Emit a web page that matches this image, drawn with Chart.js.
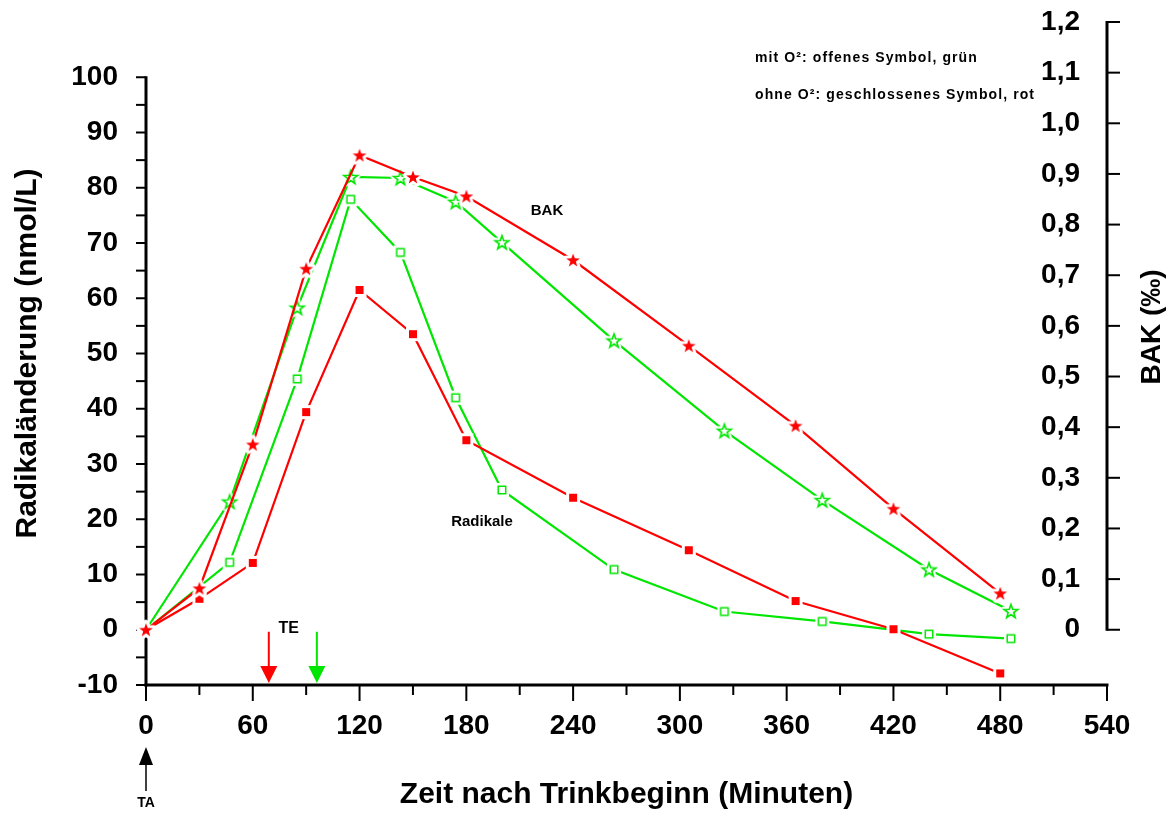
<!DOCTYPE html>
<html>
<head>
<meta charset="utf-8">
<script src="https://cdn.jsdelivr.net/npm/chart.js@4/dist/chart.umd.min.js"></script>
<style>
    html, body { margin: 0; padding: 0; background: #fff; }
    #wrap { width: 1175px; height: 816px; }
</style>
</head>
<body>
<div id="wrap"><canvas id="bakChart" width="1175" height="816"></canvas></div>
<script>
// Zeiten nach Trinkbeginn (Minuten)
const timesOhneO2 = [0, 30, 60, 90, 120, 150, 180, 240, 305, 365, 420, 480];
const timesMitO2 = [0, 47, 85, 115, 143, 174, 200, 263, 325, 380, 440, 486];

// BAK (Promille), rechte Achse
const bakOhneO2 = [0, 0.082, 0.366, 0.713, 0.937, 0.894, 0.856, 0.730, 0.561, 0.403, 0.239, 0.072];
const bakMitO2 = [0, 0.253, 0.636, 0.894, 0.892, 0.845, 0.765, 0.571, 0.393, 0.256, 0.119, 0.037];

// Radikalaenderung (nmol/L), linke Achse
const radOhneO2 = [0, 5.6, 12.1, 39.4, 61.5, 53.5, 34.3, 23.9, 14.4, 5.2, 0.1, -7.9];
const radMitO2 = [0, 12.2, 45.4, 77.9, 68.3, 42.0, 25.3, 10.9, 3.3, 1.5, -0.8, -1.6];

// Trinkende (TE) fuer ohne / mit O2
const teTimes = [69, 96];

// Achsen-Ticks
const xTicks = [0, 60, 120, 180, 240, 300, 360, 420, 480, 540];
const xMinorTicks = [30, 90, 150, 210, 270, 330, 390, 450, 510];
const leftTicks = [-10, 0, 10, 20, 30, 40, 50, 60, 70, 80, 90, 100];
const leftMinorTicks = [-5, 5, 15, 25, 35, 45, 55, 65, 75, 85, 95];
const rightTicks = [0, 0.1, 0.2, 0.3, 0.4, 0.5, 0.6, 0.7, 0.8, 0.9, 1.0, 1.1, 1.2];

const FONT = "'Liberation Sans', Arial, Helvetica, sans-serif";
const RED = '#ff0000';
const GREEN = '#00e600';

function pts(xs, ys) {
    return xs.map((x, i) => ({ x: x, y: ys[i] }));
}

// marker images with white halo so the line stops short of the symbol
function makeStar(color, filled) {
    const size = 24;
    const c = document.createElement('canvas');
    c.width = c.height = size;
    const g = c.getContext('2d');
    const path = () => {
        g.beginPath();
        for (let i = 0; i < 10; i++) {
            const r = i % 2 ? 2.9 : 7.2;
            const a = -Math.PI / 2 + i * Math.PI / 5;
            g.lineTo(size / 2 + r * Math.cos(a), size / 2 + 0.6 + r * Math.sin(a));
        }
        g.closePath();
    };
    path();
    g.lineJoin = 'round';
    g.lineWidth = 6;
    g.strokeStyle = '#fff';
    g.stroke();
    g.fillStyle = '#fff';
    g.fill();
    path();
    if (filled) {
        g.fillStyle = color;
        g.fill();
    } else {
        g.lineJoin = 'miter';
        g.lineWidth = 1.6;
        g.strokeStyle = color;
        g.stroke();
    }
    return c;
}

function makeSquare(color, filled) {
    const size = 18;
    const c = document.createElement('canvas');
    c.width = c.height = size;
    const g = c.getContext('2d');
    g.fillStyle = '#fff';
    g.fillRect(2, 2, size - 4, size - 4);
    if (filled) {
        g.fillStyle = color;
        g.fillRect(5, 5, 8, 8);
    } else {
        g.strokeStyle = color;
        g.lineWidth = 1.5;
        g.strokeRect(5.25, 5.25, 7.5, 7.5);
    }
    return c;
}

const axesPlugin = {
    id: 'axesPlugin',
    beforeDatasetsDraw(chart) {
        const { ctx } = chart;
        const x = chart.scales.x, y = chart.scales.y, y2 = chart.scales.y2;
        const xl = x.getPixelForValue(0);
        const xr = x.getPixelForValue(540);
        const yb = y.getPixelForValue(-10);
        const line = (x1, y1, x2, y2_) => {
            ctx.beginPath();
            ctx.moveTo(x1, y1);
            ctx.lineTo(x2, y2_);
            ctx.stroke();
        };
        ctx.save();
        ctx.strokeStyle = '#000';
        ctx.lineWidth = 2;
        // ticks
        xTicks.forEach(v => line(x.getPixelForValue(v), yb, x.getPixelForValue(v), yb + 16));
        xMinorTicks.forEach(v => line(x.getPixelForValue(v), yb, x.getPixelForValue(v), yb + 10));
        leftTicks.concat(leftMinorTicks).forEach(v => line(xl, y.getPixelForValue(v), xl - 10, y.getPixelForValue(v)));
        rightTicks.forEach(v => line(xr, y2.getPixelForValue(v), xr + 13, y2.getPixelForValue(v)));
        // axis lines
        ctx.lineWidth = 3;
        line(xl - 1.5, yb, xr + 1.5, yb);
        line(xl, yb + 1.5, xl, y.getPixelForValue(100) - 1);
        line(xr, y2.getPixelForValue(0) + 1, xr, y2.getPixelForValue(1.2) - 1);
        ctx.restore();
    }
};

function arrowDown(ctx, px, top, tip, color, head, shaft) {
    ctx.strokeStyle = color;
    ctx.fillStyle = color;
    ctx.lineWidth = shaft;
    ctx.beginPath();
    ctx.moveTo(px, top);
    ctx.lineTo(px, tip - head);
    ctx.stroke();
    ctx.beginPath();
    ctx.moveTo(px - head / 2, tip - head);
    ctx.lineTo(px + head / 2, tip - head);
    ctx.lineTo(px, tip);
    ctx.closePath();
    ctx.fill();
}

const notesPlugin = {
    id: 'notesPlugin',
    afterDraw(chart) {
        const { ctx } = chart;
        const x = chart.scales.x, y = chart.scales.y;
        const yb = y.getPixelForValue(-10);
        ctx.save();
        ctx.fillStyle = '#000';
        ctx.textAlign = 'center';
        ctx.textBaseline = 'middle';

        // right axis title
        ctx.save();
        ctx.translate(1152, 327);
        ctx.rotate(-Math.PI / 2);
        ctx.font = 'bold 28px ' + FONT;
        ctx.fillText('BAK (‰)', 0, 0);
        ctx.restore();

        // TE arrows
        arrowDown(ctx, x.getPixelForValue(teTimes[0]), y.getPixelForValue(0) + 2, yb - 2, RED, 17, 2);
        arrowDown(ctx, x.getPixelForValue(teTimes[1]), y.getPixelForValue(0) + 2, yb - 2, GREEN, 17, 2);
        ctx.fillStyle = '#000';
        ctx.font = 'bold 16px ' + FONT;
        ctx.fillText('TE', (x.getPixelForValue(teTimes[0]) + x.getPixelForValue(teTimes[1])) / 2 - 4, 629);

        // TA arrow (upwards)
        const xa = x.getPixelForValue(0);
        ctx.strokeStyle = '#000';
        ctx.lineWidth = 1.5;
        ctx.beginPath();
        ctx.moveTo(xa, yb + 106);
        ctx.lineTo(xa, yb + 75);
        ctx.stroke();
        ctx.beginPath();
        ctx.moveTo(xa - 7, yb + 80);
        ctx.lineTo(xa + 7, yb + 80);
        ctx.lineTo(xa, yb + 62);
        ctx.closePath();
        ctx.fill();
        ctx.font = 'bold 14px ' + FONT;
        ctx.fillText('TA', xa, 803);

        // curve labels
        ctx.font = 'bold 15px ' + FONT;
        ctx.fillText('BAK', 547, 211);
        ctx.fillText('Radikale', 482, 522);

        // legend text
        ctx.textAlign = 'left';
        ctx.font = 'bold 14px ' + FONT;
        ctx.letterSpacing = '1.1px';
        ctx.fillText('mit O²: offenes Symbol, grün', 755, 58);
        ctx.fillText('ohne O²: geschlossenes Symbol, rot', 755, 95);
        ctx.restore();
    }
};

const tickFont = { family: FONT, size: 28, weight: 'bold' };
const titleFont = { family: FONT, size: 30, weight: 'bold' };

function lineSet(label, data, axis, color, marker) {
    return {
        label: label,
        data: data,
        yAxisID: axis,
        borderColor: color,
        backgroundColor: color,
        borderWidth: 2.2,
        tension: 0,
        pointStyle: marker,
        pointRadius: 6,
        pointHoverRadius: 6,
        clip: false
    };
}

function fixY(width) {
    return s => {
        s.width = width;
        s.paddingTop = 0;
        s.paddingBottom = 0;
    };
}

document.addEventListener('DOMContentLoaded', function () {
    const ctx = document.getElementById('bakChart').getContext('2d');

    new Chart(ctx, {
        type: 'line',
        data: {
            datasets: [
                lineSet('BAK ohne O²', pts(timesOhneO2, bakOhneO2), 'y2', RED, makeStar(RED, true)),
                lineSet('BAK mit O²', pts(timesMitO2, bakMitO2), 'y2', GREEN, makeStar(GREEN, false)),
                lineSet('Radikale ohne O²', pts(timesOhneO2, radOhneO2), 'y', RED, makeSquare(RED, true)),
                lineSet('Radikale mit O²', pts(timesMitO2, radMitO2), 'y', GREEN, makeSquare(GREEN, false))
            ]
        },
        options: {
            responsive: false,
            animation: false,
            layout: { padding: { top: 22, left: 0, right: 0, bottom: 0 } },
            plugins: {
                legend: { display: false },
                tooltip: { enabled: false }
            },
            scales: {
                x: {
                    type: 'linear',
                    min: 0,
                    max: 540,
                    afterBuildTicks: s => { s.ticks = xTicks.map(v => ({ value: v })); },
                    afterFit: s => {
                        s.height = 131;
                        s.paddingLeft = 0;
                        s.paddingRight = 0;
                    },
                    grid: { display: false },
                    border: { display: false },
                    ticks: {
                        color: '#000',
                        font: tickFont,
                        padding: 16,
                        maxRotation: 0,
                        autoSkip: false,
                        callback: v => String(v)
                    },
                    title: {
                        display: true,
                        text: 'Zeit nach Trinkbeginn (Minuten)',
                        color: '#000',
                        font: titleFont,
                        padding: { top: 0, bottom: 3 }
                    }
                },
                y: {
                    position: 'left',
                    min: -10,
                    max: 110,
                    afterBuildTicks: s => { s.ticks = leftTicks.map(v => ({ value: v })); },
                    afterFit: fixY(146),
                    grid: { display: false },
                    border: { display: false },
                    ticks: {
                        color: '#000',
                        font: tickFont,
                        padding: 20,
                        autoSkip: false,
                        callback: v => String(v)
                    },
                    title: {
                        display: true,
                        text: 'Radikaländerung (nmol/L)',
                        color: '#000',
                        font: titleFont,
                        padding: { top: 10, bottom: 0 }
                    }
                },
                y2: {
                    position: 'right',
                    min: -1.2 * 10 / 110,
                    max: 1.2,
                    afterBuildTicks: s => { s.ticks = rightTicks.map(v => ({ value: v })); },
                    afterFit: fixY(68),
                    grid: { display: false },
                    border: { display: false },
                    ticks: {
                        color: '#000',
                        font: tickFont,
                        mirror: true,
                        padding: -27,
                        autoSkip: false,
                        callback: v => v === 0 ? '0' : v.toFixed(1).replace('.', ',')
                    }
                }
            }
        },
        plugins: [axesPlugin, notesPlugin]
    });
});
</script>
</body>
</html>
